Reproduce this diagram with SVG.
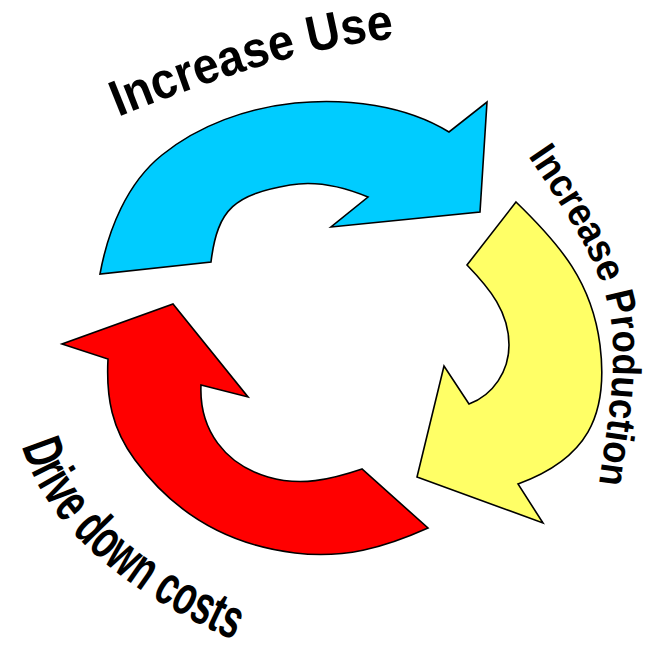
<svg xmlns="http://www.w3.org/2000/svg" xmlns:xlink="http://www.w3.org/1999/xlink" width="653" height="649" viewBox="0 0 653 649">
  <style>
    .arrow { stroke: #000000; stroke-width: 1.6; stroke-linejoin: miter; }
    .blue { fill: #00CCFF; }
    .yellow { fill: #FFFF66; }
    .red { fill: #FF0000; }
    .label { font-family: "Liberation Sans", Arial, sans-serif; font-weight: bold; fill: #000000; }
  </style>
  <defs>
    <path id="p-use" d="M118,117 Q296,45 402,38"/>
    <path id="p-prod" d="M528,156 C575,225 612,280 613,345 S600,460 598,496"/>
    <path id="p-costs" d="M22,446 C40,512 110,590 248,646"/>
  </defs>
  <rect width="653" height="649" fill="#ffffff"/>
  <g id="connectors">
    <path id="arrow-blue" class="arrow blue" d="M100,274 C108,230 127,183 162,155 C199,125 247,108 295,103 C347,98 405,105 449,132 L487,102 L480,212 L331,227 L368,197 C344,187 315.6,180.5 290,185 C235.8,194.6 217.6,207.6 211,262 Z"/>
    <path id="arrow-yellow" class="arrow yellow" d="M516,202 C561,245.5 592,282.6 600,345 C609,416.8 586.1,459.3 518,484 L543,523 L417,477 L444,366 L469,404 C493.4,394.9 509,371 509,345 C509,312 490,288.8 467,265 Z"/>
    <path id="arrow-red" class="arrow red" d="M428,528 C383.4,548 343.5,558.9 295,553 C227.7,544.8 175,514.4 135,460 C112,429 106,398 108,359 L62,344 L173,304 L248,397 L201,385 C199,430 225,464.4 268,477 C300.6,486.5 329.7,479.9 362,469 Z"/>
  </g>
  <g id="node-increase-use">
    <text class="label" font-size="51" textLength="288" lengthAdjust="spacingAndGlyphs"><textPath xlink:href="#p-use" href="#p-use" textLength="288" lengthAdjust="spacingAndGlyphs">Increase Use</textPath></text>
  </g>
  <g id="node-increase-production">
    <text class="label" font-size="40" textLength="350" lengthAdjust="spacingAndGlyphs"><textPath xlink:href="#p-prod" href="#p-prod" textLength="350" lengthAdjust="spacingAndGlyphs">Increase Production</textPath></text>
  </g>
  <g id="node-drive-down-costs">
    <text class="label" font-size="56" textLength="296" lengthAdjust="spacingAndGlyphs"><textPath xlink:href="#p-costs" href="#p-costs" textLength="296" lengthAdjust="spacingAndGlyphs">Drive down costs</textPath></text>
  </g>
</svg>
